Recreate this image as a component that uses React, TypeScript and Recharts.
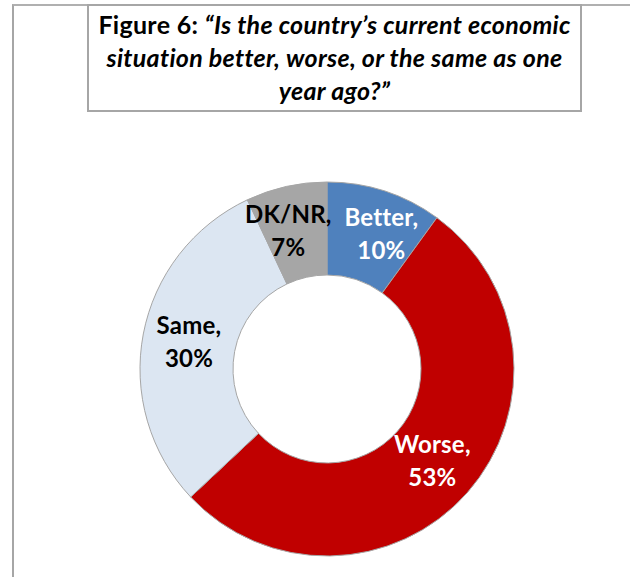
import { PieChart, Pie, Cell } from "recharts";

const categories = ["Better", "Worse", "Same", "DK/NR"];
const shares = [10, 53, 30, 7];

const sliceColors = ["#4f81bd", "#c00000", "#dce6f2", "#a6a6a6"];
const labelColors = ["#ffffff", "#ffffff", "#000000", "#000000"];
// horizontal nudges so the two narrow-slice labels don't collide
const labelShift = [11, 0, 0, -8];

const data = categories.map((name, i) => ({ name, value: shares[i] }));

const RAD = Math.PI / 180;
const FONT = "Lato, 'Open Sans', sans-serif";

function renderLabel(props: any) {
  const { cx, cy, midAngle, innerRadius, outerRadius, index, name, value } = props;
  const r = (innerRadius + outerRadius) / 2;
  const x = cx + r * Math.cos(-midAngle * RAD) + labelShift[index];
  const y = cy + r * Math.sin(-midAngle * RAD);
  return (
    <text
      x={x}
      y={y}
      textAnchor="middle"
      fill={labelColors[index]}
      fontFamily={FONT}
      fontWeight={700}
      fontSize={24}
      letterSpacing={0.2}
    >
      <tspan x={x} dy={-9}>{`${name},`}</tspan>
      <tspan x={x} dy={33}>{`${value}%`}</tspan>
    </text>
  );
}

export default function App() {
  return (
    <div
      style={{
        position: "absolute",
        left: 0,
        top: 0,
        width: 630,
        height: 577,
        background: "#fff",
        overflow: "hidden",
        fontFamily: FONT,
      }}
    >
      {/* outer frame */}
      <div
        style={{
          position: "absolute",
          left: 12,
          top: 4,
          width: 640,
          height: 600,
          borderLeft: "2px solid #a6a6a6",
          borderTop: "2px solid #b0b0b0",
        }}
      />
      {/* title box */}
      <div
        style={{
          position: "absolute",
          left: 87,
          top: 4,
          width: 491,
          height: 102,
          border: "2px solid #a6a6a6",
          background: "#fff",
          textAlign: "center",
          fontWeight: 700,
          fontSize: 25,
          letterSpacing: 0.3,
          lineHeight: "33px",
          paddingTop: 2,
          color: "#000",
          whiteSpace: "nowrap",
        }}
      >
        Figure 6: <i>“Is the country’s current economic</i>
        <br />
        <i>situation better, worse, or the same as one</i>
        <br />
        <i>year ago?”</i>
      </div>
      <div style={{ position: "absolute", left: 0, top: 0 }}>
        <PieChart width={630} height={577}>
          <Pie
            data={data}
            dataKey="value"
            nameKey="name"
            cx={322}
            cy={364}
            innerRadius={94}
            outerRadius={187}
            startAngle={90}
            endAngle={-270}
            stroke="#a6a6a6"
            strokeWidth={1}
            label={renderLabel}
            labelLine={false}
            isAnimationActive={false}
          >
            {data.map((d, i) => (
              <Cell key={d.name} fill={sliceColors[i]} />
            ))}
          </Pie>
        </PieChart>
      </div>
    </div>
  );
}
